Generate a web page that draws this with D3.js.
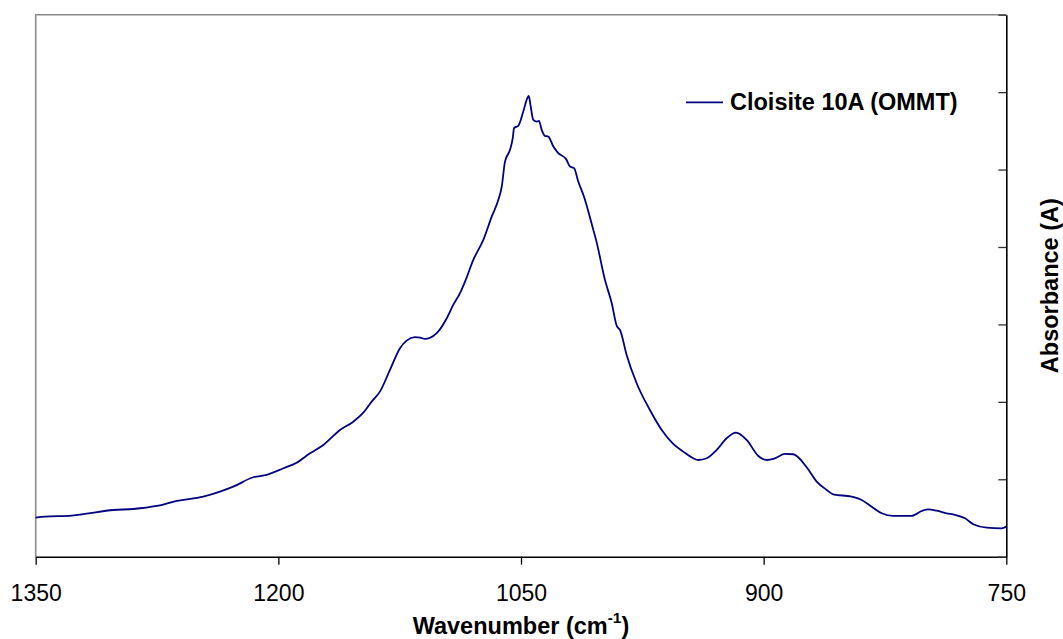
<!DOCTYPE html>
<html>
<head>
<meta charset="utf-8">
<script src="https://cdn.jsdelivr.net/npm/d3@7"></script>
<style>
  html, body { margin: 0; padding: 0; background: #ffffff; }
  svg { display: block; }
  text { font-family: "Liberation Sans", Arial, Helvetica, sans-serif; fill: #000; }
</style>
</head>
<body>
<svg id="chart" width="1063" height="639"></svg>
<script>
// FTIR spectrum of Cloisite 10A (OMMT), absorbance vs. wavenumber
const seriesName = "Cloisite 10A (OMMT)";

const wavenumber = [
  1350, 1344.3, 1327.7, 1318.5, 1302, 1289.7, 1275.2, 1262.8, 1246.4, 1236.1,
  1227.9, 1215.5, 1207.2, 1196.9, 1188.7, 1180.4, 1172.2, 1161.9, 1153.7, 1147.5,
  1142.3, 1137.2, 1131, 1124.8, 1120.7, 1115.5, 1112.4, 1109.3, 1106.3, 1102.1,
  1095.9, 1091.9, 1087.7, 1084, 1079.5, 1073.3, 1068.1, 1064, 1061.9, 1059.9,
  1056.8, 1055.1, 1054.3, 1051.7, 1048.6, 1046.1, 1045.2, 1044, 1042.4, 1040.3,
  1038.9, 1037.2, 1035.2, 1033.1, 1030, 1027, 1022.2, 1019.7, 1017.2, 1014.6,
  1011.1, 1005.3, 1003.6, 998.1, 993.9, 990.8, 988.8, 984.7, 978.5, 970.3,
  963, 955.9, 949.7, 943.5, 940.4, 935.2, 929, 922.9, 917.1, 910.5,
  903.3, 898.1, 893, 886.8, 881.7, 873.4, 867.2, 861, 857, 845.6,
  839.4, 833.2, 827, 819.9, 808.5, 802.3, 798.2, 793, 786.9, 781.7,
  775.5, 770.4, 762.1, 752.9, 750
];

const absorbance = [
  0.0504, 0.0517, 0.0530, 0.0556, 0.0603, 0.0616, 0.0655, 0.0720, 0.0775, 0.0840,
  0.0904, 0.1026, 0.1056, 0.1142, 0.1214, 0.1336, 0.1443, 0.1637, 0.1744, 0.1860,
  0.2003, 0.2132, 0.2412, 0.2693, 0.2791, 0.2835, 0.2829, 0.2813, 0.2826, 0.2886,
  0.3080, 0.3252, 0.3403, 0.3584, 0.3833, 0.4092, 0.4393, 0.4609, 0.4780, 0.5103,
  0.5255, 0.5406, 0.5535, 0.5565, 0.5749, 0.5922, 0.5952, 0.5814, 0.5642, 0.5620,
  0.5629, 0.5513, 0.5435, 0.5426, 0.5297, 0.5212, 0.5138, 0.5039, 0.5018, 0.4845,
  0.4651, 0.4221, 0.4092, 0.3575, 0.3274, 0.2981, 0.2929, 0.2606, 0.2240, 0.1895,
  0.1637, 0.1456, 0.1357, 0.1271, 0.1249, 0.1271, 0.1379, 0.1530, 0.1602, 0.1508,
  0.1301, 0.1249, 0.1271, 0.1327, 0.1323, 0.1155, 0.0969, 0.0862, 0.0806, 0.0775,
  0.0733, 0.0646, 0.0561, 0.0526, 0.0526, 0.0590, 0.0612, 0.0594, 0.0561, 0.0539,
  0.0496, 0.0419, 0.0375, 0.0367, 0.0388
];

const xTickValues = [1350, 1200, 1050, 900, 750];
const yTickValues = [0, 0.1, 0.2, 0.3, 0.4, 0.5, 0.6, 0.7];

const svg = d3.select("#chart");
const plot = { left: 35.7, right: 1006.3, top: 14.7, bottom: 556.7 };

const x = d3.scaleLinear().domain([1350, 750]).range([plot.left, plot.right]);
const y = d3.scaleLinear().domain([0, 0.7]).range([plot.bottom, plot.top]);

// plot area frame (top and left edges, grey)
svg.append("path")
  .attr("d", `M${plot.left},${plot.bottom} L${plot.left},${plot.top} L${plot.right},${plot.top}`)
  .attr("fill", "none")
  .attr("stroke", "#8a8a8a")
  .attr("stroke-width", 1.6);

// bottom axis
const xAxis = svg.append("g")
  .attr("transform", `translate(0,${plot.bottom})`)
  .call(d3.axisBottom(x).tickValues(xTickValues).tickSize(8).tickSizeOuter(0)
    .tickPadding(20).tickFormat(d3.format("d")));
xAxis.select(".domain").attr("stroke", "#000").attr("stroke-width", 1.6);
xAxis.selectAll(".tick line").attr("stroke", "#000").attr("stroke-width", 1.3);
xAxis.selectAll(".tick text")
  .style("font-family", "'Liberation Sans', Arial, sans-serif")
  .style("font-size", "23px").attr("fill", "#000");

// right axis, ticks pointing into the plot, no labels
const yAxis = svg.append("g")
  .attr("transform", `translate(${plot.right},0)`)
  .call(d3.axisLeft(y).tickValues(yTickValues).tickSize(8).tickSizeOuter(0).tickFormat(() => ""));
yAxis.select(".domain").attr("stroke", "#000").attr("stroke-width", 1.6);
yAxis.selectAll(".tick line").attr("stroke", "#333").attr("stroke-width", 1.3);

// spectrum
const pts = wavenumber.map((w, i) => [w, absorbance[i]]);
const line = d3.line()
  .x(d => x(d[0]))
  .y(d => y(d[1]))
  .curve(d3.curveMonotoneX);

svg.append("path")
  .datum(pts)
  .attr("d", line)
  .attr("fill", "none")
  .attr("stroke", "#000080")
  .attr("stroke-width", 1.8)
  .attr("stroke-linejoin", "round");

// legend
svg.append("line")
  .attr("x1", 686).attr("x2", 723)
  .attr("y1", 102.3).attr("y2", 102.3)
  .attr("stroke", "#000080").attr("stroke-width", 1.8);
svg.append("text")
  .attr("x", 730).attr("y", 110)
  .style("font-size", "23.5px").style("font-weight", "bold")
  .text(seriesName);

// axis titles
const xTitle = svg.append("text")
  .attr("x", (plot.left + plot.right) / 2).attr("y", 634)
  .attr("text-anchor", "middle")
  .style("font-size", "23.5px").style("font-weight", "bold");
xTitle.append("tspan").text("Wavenumber (cm");
xTitle.append("tspan").attr("dy", -11).style("font-size", "15.5px").text("-1");
xTitle.append("tspan").attr("dy", 11).text(")");

svg.append("text")
  .attr("transform", `translate(1058,${(plot.top + plot.bottom) / 2}) rotate(-90)`)
  .attr("text-anchor", "middle")
  .style("font-size", "23.5px").style("font-weight", "bold")
  .text("Absorbance (A)");
</script>
</body>
</html>
